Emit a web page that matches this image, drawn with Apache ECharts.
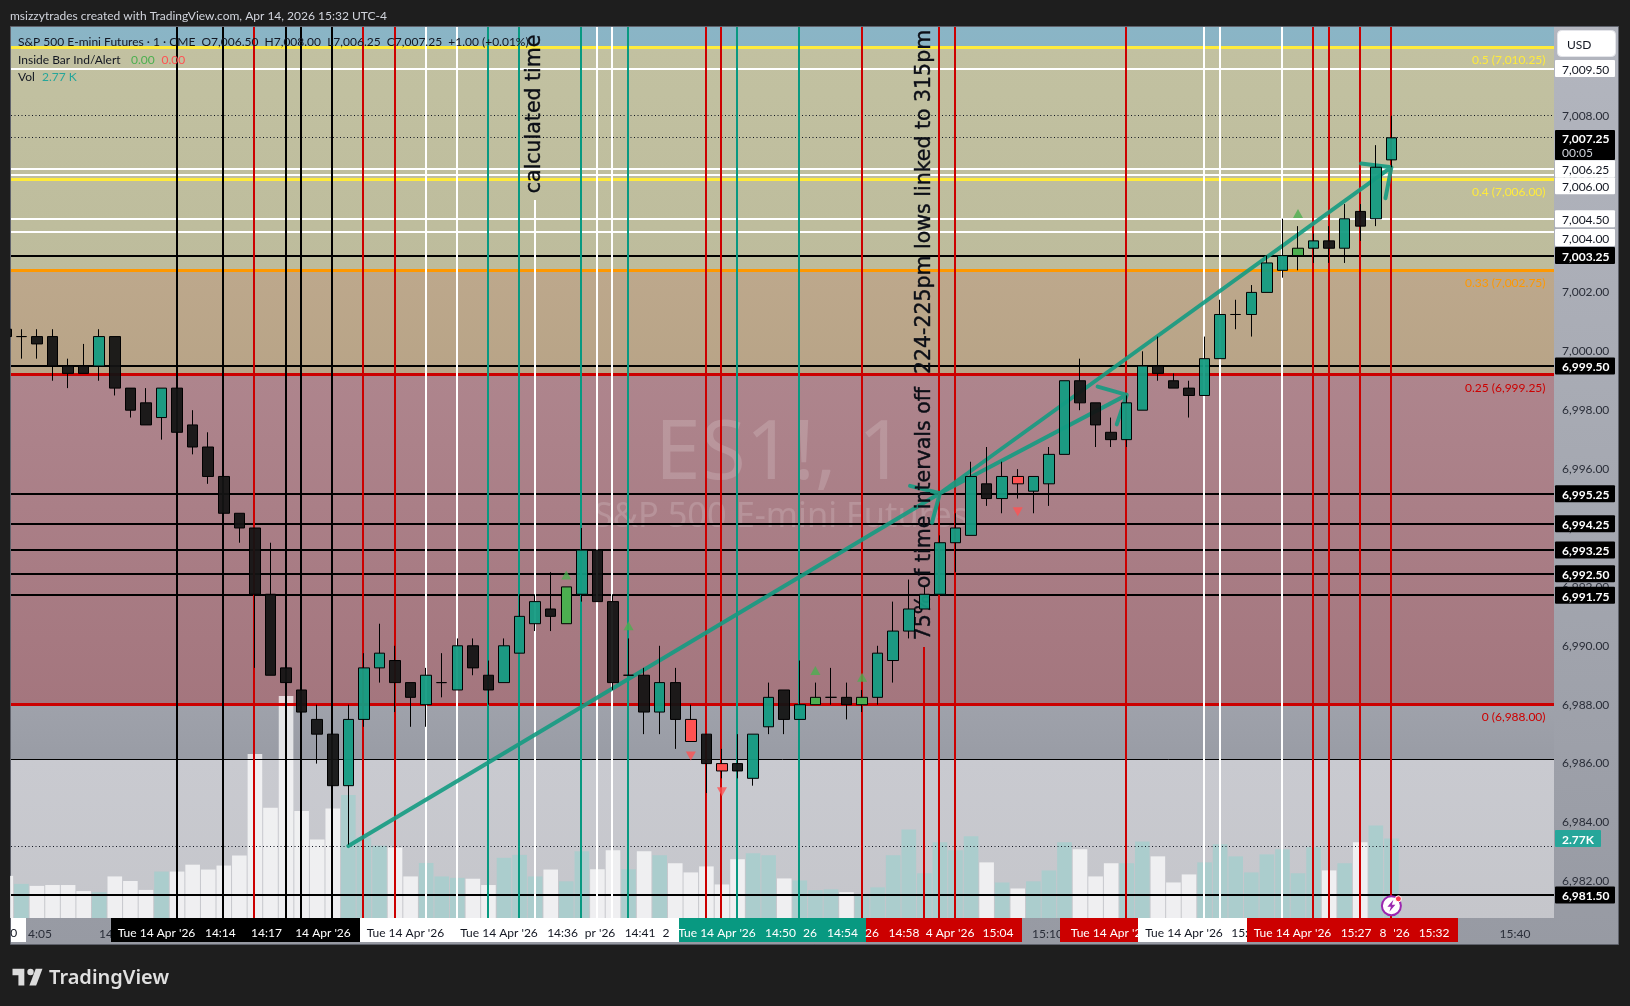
<!DOCTYPE html>
<html><head><meta charset="utf-8">
<style>html,body{margin:0;padding:0;background:#1e1e1e}#c{width:1630px;height:1006px}</style>
<script src="https://cdn.jsdelivr.net/npm/echarts@6/dist/echarts.min.js"></script>
</head><body><div id="c"></div>
<script>
// ---------- data ----------
const firstBar = -1;
const barOpen = [7000.75,7000.5,7000.5,7000.5,6999.5,6999.5,6999.5,7000.5,6998.75,6998.25,6997.75,6998.75,6997.5,6996.75,6995.75,6994.5,6994,6991.75,6989.25,6988.5,6987.5,6987,6985.25,6987.5,6989.25,6989.5,6988.75,6988,6988.75,6988.5,6990,6989,6988.75,6989.75,6990.75,6991.25,6990.75,6991.75,6993.25,6991.5,6989,6989,6987.75,6988.75,6987.5,6987,6986,6986,6985.5,6987.25,6988.5,6987.5,6988,6988.25,6988.25,6988,6988.25,6989.5,6990.5,6991.25,6991.75,6993.5,6993.75,6995.5,6995,6995.75,6995.25,6995.5,6996.5,6999,6998.25,6997.25,6997,6998,6999.5,6999,6998.75,6998.5,6999.75,7001.25,7001.25,7002,7002.75,7003.25,7003.5,7003.75,7003.5,7004.75,7004.5,7006.5];
const barClose = [7000.5,7000.5,7000.25,6999.5,6999.25,6999.25,7000.5,6998.75,6998,6997.5,6998.75,6997.25,6996.75,6995.75,6994.5,6994,6991.75,6989,6988.75,6987.75,6987,6985.25,6987.5,6989.25,6989.75,6988.75,6988.25,6989,6988.75,6990,6989.25,6988.5,6990,6991,6991.5,6991,6992,6993.25,6991.5,6988.75,6989,6987.75,6988.75,6987.5,6986.75,6986,6985.75,6985.75,6987,6988.25,6987.5,6988,6988.25,6988.25,6988,6988.25,6989.75,6990.5,6991.25,6991.75,6993.5,6994,6995.75,6995,6995.75,6995.5,6995.75,6996.5,6999,6998.25,6997.5,6997,6998.25,6999.5,6999.25,6998.75,6998.5,6999.75,7001.25,7001.25,7002,7003,7003.25,7003.5,7003.75,7003.5,7004.5,7004.25,7006.25,7007.25];
const barLow = [7000.5,6999.75,6999.75,6999,6998.75,6999.25,6999,6998.5,6997.75,6997.5,6997,6997.25,6996.5,6995.5,6994.5,6993.5,6989.25,6989,6988.75,6987.75,6986,6985.25,6983.25,6987.25,6988.75,6987.75,6987.25,6987.25,6988.25,6988.5,6989,6988,6988.75,6989.75,6990.5,6990.5,6990.75,6991.5,6991.5,6988.5,6989,6987,6987,6986.5,6986.75,6985,6985.5,6985.5,6985.25,6987,6987,6987.5,6988,6988,6987.5,6987.75,6988,6988.75,6990.25,6991.25,6991.75,6992.5,6993.75,6994.75,6994.5,6995,6994.5,6994.75,6996.5,6998,6996.75,6996.75,6996.75,6998,6999,6998.75,6997.75,6998.5,6999.75,7000.75,7000.5,7002,7002.5,7002.75,7003,7003,7003,7003.75,7004.25,7006.25];
const barHigh = [7000.75,7000.75,7000.75,7000.75,6999.75,7000.25,7000.75,7000.5,6998.75,6998.75,6998.75,6998.75,6998,6997.25,6995.75,6994.5,6994,6993.5,6989.25,6988.5,6988,6987,6988,6989.75,6990.75,6990,6988.75,6989.25,6989.75,6990.25,6990.25,6989.5,6990.25,6991.75,6991.75,6992.5,6992,6994,6993.25,6991.75,6990.25,6989.25,6990,6989.25,6988,6987,6986.5,6987,6987,6988.75,6988.5,6989.5,6988.75,6989.25,6988.75,6988.5,6990,6991.5,6992.25,6992,6993.75,6994.5,6996.25,6996.75,6996.25,6996,6995.75,6996.75,6999,6999.75,6998.25,6997.75,6998.5,7000,7000.5,6999.25,6999,7000.5,7001.75,7001.75,7002.25,7003.25,7004.5,7004.25,7004,7004.25,7005,7005,7007,7008];
const barVolumeK = [1.47,1.19,1.12,1.15,1.15,0.94,0.90,1.45,1.29,0.98,1.62,1.62,1.86,1.69,1.83,2.18,5.72,3.85,7.74,3.73,2.74,3.82,4.29,2.82,2.52,2.46,1.45,1.92,1.45,1.40,1.37,1.15,2.10,2.20,1.45,1.69,1.28,2.33,1.70,2.36,1.70,2.33,2.19,1.91,1.59,1.80,1.17,2.05,2.26,2.19,1.38,1.31,0.97,1.00,0.90,0.76,1.07,2.19,3.09,1.56,2.64,2.36,2.85,1.94,1.24,1.03,1.28,1.66,2.64,2.40,1.45,1.91,1.91,2.67,2.15,1.24,1.52,1.94,2.57,2.15,1.59,2.22,2.40,1.56,2.47,1.66,1.91,2.64,3.23,2.77];
const insideUpBars = [35,51,54,82];
const insideDownBars = [43,45,64];
const signalUpBars = [35,39,51,54,82];
const signalUpPrices = [6992.4,6990.68,6989.16,6988.93,7004.68];
const signalDownBars = [43,45,64];
const signalDownPrices = [6986.26,6985.04,6994.55];

const blackLevels = [7003.25,6999.5,6995.16,6994.14,6993.25,6992.45,6991.72,6981.54];
const whiteLevels = [7009.6,7006.2,7006.0,7004.5,7004.05];
const thinLevels = [6986.15];
const dottedLevels = [7008,7007.25,6983.2];
const fibLevels = [7010.32,7005.84,7002.75,6999.2,6988];
const fibLabels = ['0.5 (7,010.25)','0.4 (7,006.00)','0.33 (7,002.75)','0.25 (6,999.25)','0 (6,988.00)'];
const zoneEdges = [7011.02,7010.32,7002.75,6999.2,6988,6986.15,6980.75];

const blackVerticals = [10,13,17,18,20];
const redVerticals = [15,22,24,44,45,54,58,59,60,71,83,84,86,88];
const whiteVerticals = [26,28,33,37,38,76,77,81];
const tealVerticals = [30,32,36,39,46,50];
const partialVerticalBars = [33,58];
const partialVerticalTops = [7005.14,6989.96];

const priceTicks = [7008,7006,7004,7002,7000,6998,6996,6994,6992,6990,6988,6986,6984,6982];
const whiteTagTexts = ['7,009.50','7,006.25','7,006.00','7,004.50','7,004.00'];
const whiteTagPrices = [7009.6,7006.2,7005.62,7004.5,7003.86];
const blackTagTexts = ['7,003.25','6,999.50','6,995.25','6,994.25','6,993.25','6,992.50','6,991.75','6,981.50'];
const blackTagPrices = [7003.25,6999.5,6995.16,6994.14,6993.25,6992.45,6991.72,6981.54];

const arrowBars = [21,59,null,57.08,59,58.49,null,59,71,null,69.13,71,70.36,null,59,88,null,86.05,88,87.62];
const arrowPrices = [6983.2,6995.18,null,6995.43,6995.18,6994.18,null,6995.18,6998.52,null,6998.8,6998.52,6997.52,null,6995.18,7006.25,null,7006.38,7006.25,7005.2];

const noteTexts = ['calculated time','75% of time intervals off  224-225pm lows linked to 315pm'];
const noteBars = [33,58];
const notePrices = [7008.06,7000.55];

const bandStarts = [-0.67,5.78,21.75,42.22,54.23,66.71,71.71,78.73];
const bandEnds = [0.28,21.75,42.22,54.23,64.25,71.71,78.73,92.25];
const bandKinds = ['white','black','white','teal','red','red','white','red'];
const bandTexts = [['0'],["Tue 14 Apr '26",'14:14','14:17',"14 Apr '26"],["Tue 14 Apr '26","Tue 14 Apr '26",'14:36',"pr '26",'14:41','2'],["Tue 14 Apr '26",'14:50','26','14:54'],['26','14:58',"4 Apr '26",'15:04'],["Tue 14 Apr '26"],["Tue 14 Apr '26",'15:21'],["Tue 14 Apr '26",'15:27','8',"'26",'15:32']];
const bandTextBars = [[-0.5],[8.68,12.78,15.74,19.37],[24.67,30.68,34.76,37.17,39.74,41.4],[44.68,48.76,50.65,52.74],[54.64,56.69,59.65,62.73],[69.9],[74.68,78.7],[81.65,85.73,87.46,88.65,90.74]];
const plainTimeBars = [1.19,5.43,65.91,95.94];
const plainTimeTexts = ['4:05','14','15:10','15:40'];

// ---------- styles and layout ----------
const FONT = 'Lato, "Noto Sans", sans-serif';
const WATERMARK_FONT = '"Noto Sans", sans-serif';
const bandColors = {white:'#ffffff',black:'#000000',teal:'#089981',red:'#cc0000'};
const bandInk = {white:'#131722',black:'#ffffff',teal:'#ffffff',red:'#ffffff'};
const zoneColors = [['#8ab5c6','#8ab4c5'],['#c2c1a1','#bdbc9c'],['#bda88c','#b8a487'],['#ae858d','#a4767e'],['#9fa2ab','#999ca5'],['#c9cad0','#c5c6cb']];
const fibColors = ['#ffeb3b','#ffeb3b','#ff9800','#cc0000','#cc0000'];
const fibLabelColors = ['#ffeb3b','#ffeb3b','#ff9800','#cc0000','#cc0000'];
const fibLabelOffsets = [12.5,12.5,12.5,13.2,12.8];
const logoShapes = [[[14,22],[7,22],[7,11],[0,11],[0,4],[14,4]],[[28,22],[20,22],[27.5,4],[35.5,4]]];
const xMin = -0.668, xMax = 98.445;
const vgrad = (a,b)=>new echarts.graphic.LinearGradient(0,0,0,1,[{offset:0,color:a},{offset:1,color:b}]);
const crisp = (v,w)=> (Math.round(w)%2 ? Math.floor(v)+0.5 : Math.round(v));

function hLine(api,p,color,width,dash){
  const a=api.coord([xMin,p]), b=api.coord([xMax,p]); const y=crisp(a[1],width);
  return {type:'line',shape:{x1:a[0],y1:y,x2:b[0],y2:y},style:{stroke:color,lineWidth:width,lineDash:dash||null}};
}
function levelSeries(name,levels,color,width,z,dash){
  return {type:'custom',name,coordinateSystem:'cartesian2d',z,clip:true,silent:true,data:levels.map(v=>[xMin,v]),encode:{x:0,y:1},
    renderItem:(p,api)=>hLine(api,api.value(1),color,width,dash)};
}
function verticalSeries(name,bars,color,z){
  return {type:'custom',name,coordinateSystem:'cartesian2d',z,clip:true,silent:true,data:bars.map(b=>[b,6981]),encode:{x:0,y:1},
    renderItem:(p,api)=>{
      const b=api.value(0); const k=partialVerticalBars.indexOf(b);
      const top=k>=0?partialVerticalTops[k]:7011.02;
      const a=api.coord([b,top]), c=api.coord([b,6980.75]); const x=Math.floor(a[0]);
      return {type:'line',shape:{x1:x,y1:a[1],x2:x,y2:c[1]},style:{stroke:color,lineWidth:2}};
    }};
}
function tagSeries(name,texts,prices,bg,ink,weight){
  return {type:'custom',name,coordinateSystem:'cartesian2d',z:20,clip:false,silent:true,data:prices.map((v,i)=>[xMax,v,i]),encode:{x:0,y:1},
    renderItem:(p,api)=>{
      const c=api.coord([xMax,api.value(1)]); const i=api.value(2);
      return {type:'group',children:[
        {type:'rect',shape:{x:c[0]+1,y:c[1]-8.5,width:60,height:17,r:1},style:{fill:bg}},
        {type:'text',style:{x:c[0]+8,y:c[1]+1.5,text:texts[i],fill:ink,font:weight+' 12px '+FONT,verticalAlign:'middle',align:'left'}}]};
    }};
}

const candleData = barOpen.map((o,i)=>{
  const bar=i+firstBar;
  const fill=insideUpBars.includes(bar)?'#4caf50':insideDownBars.includes(bar)?'#ff5252':null;
  const item={value:[bar,o,barClose[i],barLow[i],barHigh[i]]};
  if(fill) item.itemStyle={color:fill,color0:fill};
  return item;
});
const volumeData = barVolumeK.map((v,i)=>({value:[i+firstBar,v],itemStyle:{color:barClose[i]>=barOpen[i]?'rgba(170,205,205,0.96)':'rgba(255,255,255,0.72)'}}));

const chart = echarts.init(document.getElementById('c'),null,{renderer:'canvas'});
const txt=(x,y,text,fill,extra)=>Object.assign({type:'text',z:30,silent:true,x,y:y+1.5,style:Object.assign({text,fill,font:'12px '+FONT,verticalAlign:'middle',align:'left'},extra||{})});
const logo=logoShapes.map(s=>({type:'polygon',z:30,silent:true,shape:{points:s.map(q=>[12.5+q[0]*0.845,965+q[1]*0.93])},style:{fill:'#dcdcdc'}}));

chart.setOption({
  animation:false,
  backgroundColor:'#1e1e1e',
  grid:{left:11,top:27,width:1543,height:891,containLabel:false},
  xAxis:{type:'value',min:xMin,max:xMax,splitLine:{show:false},axisLine:{show:false},axisTick:{show:false},
    axisLabel:{show:true,customValues:plainTimeBars,margin:10,color:'#2a2e39',fontFamily:'Lato',fontSize:12,hideOverlap:false,showMinLabel:true,showMaxLabel:true,
      formatter:v=>{const k=plainTimeBars.indexOf(v);return k>=0?plainTimeTexts[k]:'';}}},
  yAxis:[
    {type:'value',position:'right',min:6980.757,max:7011.012,scale:true,splitLine:{show:false},axisLine:{show:false},axisTick:{show:false},
      axisLabel:{customValues:priceTicks,margin:8,color:'#2a2e39',fontFamily:'Lato',fontSize:12,padding:[2,0,0,0],formatter:v=>v.toLocaleString('en-US',{minimumFractionDigits:2,maximumFractionDigits:2})}},
    {type:'value',min:0,max:31.08,show:false}
  ],
  graphic:[
    {type:'rect',z:-5,silent:true,shape:{x:10.5,y:26.5,width:1608,height:918},style:{fill:vgrad('#b3b6bf','#979aa3'),stroke:'#5f626b',lineWidth:1}},
    {type:'rect',z:12,silent:true,shape:{x:0,y:26,width:10,height:920},style:{fill:'#1e1e1e'}},
    {type:'text',z:2,silent:true,x:780,y:456,style:{text:'ES1!, 1',fill:'rgba(255,255,255,0.16)',font:'82px '+WATERMARK_FONT,align:'center',verticalAlign:'middle'}},
    {type:'text',z:2,silent:true,x:781,y:517,style:{text:'S&P 500 E-mini Futures',fill:'rgba(255,255,255,0.16)',font:'34.4px '+WATERMARK_FONT,align:'center',verticalAlign:'middle'}},
    txt(10,15,'msizzytrades created with TradingView.com, Apr 14, 2026 15:32 UTC-4','#d1d4dc'),
    txt(18,41,'S&P 500 E-mini Futures · 1 · CME  O7,006.50  H7,008.00  L7,006.25  C7,007.25  +1.00 (+0.01%)','#131722'),
    txt(18,59,'Inside Bar Ind/Alert','#131722'),
    txt(131,59,'0.00','#4caf50'),
    txt(161.5,59,'0.00','#ff5252'),
    txt(18,76,'Vol','#131722'),
    txt(42,76,'2.77 K','#26a69a'),
    {type:'rect',z:30,silent:true,shape:{x:1557.5,y:30.5,width:58,height:26,r:4},style:{fill:'#ffffff',stroke:'#e4e5ea',lineWidth:1}},
    txt(1567,44,'USD','#131722'),
    {type:'rect',z:30,silent:true,shape:{x:1555,y:130,width:60,height:30,r:1},style:{fill:'#000000'}},
    txt(1562,137.5,'7,007.25','#ffffff',{font:'bold 12px '+FONT}),
    txt(1562,152,'00:05','#d1d4dc'),
    {type:'rect',z:30,silent:true,shape:{x:1555,y:830,width:46,height:17,r:1},style:{fill:'#26a69a'}},
    txt(1562,838.5,'2.77K','#ffffff',{font:'bold 12px '+FONT}),
    ...logo,
    {type:'circle',z:30,silent:true,shape:{cx:30.5,cy:972,r:3.2},style:{fill:'#dcdcdc'}},
    {type:'text',z:30,silent:true,x:49,y:978,style:{text:'TradingView',fill:'#e0e0e0',font:'600 20px "Noto Sans", sans-serif',verticalAlign:'middle'}}
  ],
  series:[
    {type:'custom',name:'zones',coordinateSystem:'cartesian2d',z:1,silent:true,clip:true,data:zoneColors.map((_,i)=>[xMin,zoneEdges[i],i]),encode:{x:0,y:1},
      renderItem:(p,api)=>{
        const i=api.value(2); const a=api.coord([xMin,zoneEdges[i]]), b=api.coord([xMax,zoneEdges[i+1]]);
        return {type:'rect',shape:{x:a[0],y:a[1],width:b[0]-a[0],height:b[1]-a[1]},style:{fill:vgrad(zoneColors[i][0],zoneColors[i][1])}};
      }},
    {type:'bar',name:'Vol',xAxisIndex:0,yAxisIndex:1,barWidth:14.6,z:3,silent:true,data:volumeData},
    levelSeries('dotted',dottedLevels,'#131722',1,4,[1,2.5]),
    levelSeries('thin',thinLevels,'#000000',1,4),
    {type:'custom',name:'fib',coordinateSystem:'cartesian2d',z:4,clip:true,silent:true,data:fibLevels.map((v,i)=>[xMin,v,i]),encode:{x:0,y:1},
      renderItem:(p,api)=>hLine(api,api.value(1),fibColors[api.value(2)],3)},
    levelSeries('white levels',whiteLevels,'#ffffff',2,5),
    levelSeries('black levels',blackLevels,'#000000',2,5),
    verticalSeries('black verticals',blackVerticals,'#000000',6),
    verticalSeries('red verticals',redVerticals,'#cc0000',6),
    verticalSeries('white verticals',whiteVerticals,'#ffffff',6),
    verticalSeries('teal verticals',tealVerticals,'#089981',6),
    {type:'line',name:'arrows',z:7,silent:true,symbol:'none',connectNulls:false,clip:true,
      lineStyle:{color:'#149b82',width:4,opacity:0.9,cap:'round',join:'round'},
      data:arrowBars.map((b,i)=>b===null?['-','-']:[b,arrowPrices[i]])},
    {type:'custom',name:'notes',coordinateSystem:'cartesian2d',z:8,clip:false,silent:true,data:noteBars.map((b,i)=>[b,notePrices[i],i]),encode:{x:0,y:1},
      renderItem:(p,api)=>{
        const c=api.coord([api.value(0),api.value(1)]);
        return {type:'text',x:c[0],y:c[1],rotation:Math.PI/2,style:{x:0,y:0,text:noteTexts[api.value(2)],fill:'#0b0e16',stroke:'#0b0e16',lineWidth:0.4,font:'20.5px "DejaVu Sans", sans-serif',align:'center',verticalAlign:'middle'}};
      }},
    {type:'candlestick',name:'ES1!',z:9,silent:true,barWidth:11,encode:{x:0,y:[1,2,3,4]},
      itemStyle:{color:'rgba(20,155,130,0.95)',color0:'rgba(19,19,19,0.94)',borderColor:'#000000',borderColor0:'#000000',borderColorDoji:'#000000',borderWidth:1},
      data:candleData},
    {type:'scatter',name:'inside up',z:10,silent:true,symbol:'triangle',symbolSize:[10,9],itemStyle:{color:'#4caf50'},data:signalUpBars.map((b,i)=>[b,signalUpPrices[i]])},
    {type:'scatter',name:'inside down',z:10,silent:true,symbol:'triangle',symbolRotate:180,symbolSize:[10,9],itemStyle:{color:'#ff5252'},data:signalDownBars.map((b,i)=>[b,signalDownPrices[i]])},
    {type:'custom',name:'fib labels',coordinateSystem:'cartesian2d',z:11,clip:false,silent:true,data:fibLevels.map((v,i)=>[xMax,v,i]),encode:{x:0,y:1},
      renderItem:(p,api)=>{
        const i=api.value(2); const c=api.coord([xMax,api.value(1)]);
        return {type:'text',style:{x:c[0]-8.5,y:c[1]+fibLabelOffsets[i],text:fibLabels[i],fill:fibLabelColors[i],font:'12px '+FONT,align:'right',verticalAlign:'middle'}};
      }},
    tagSeries('white tags',whiteTagTexts,whiteTagPrices,'#ffffff','#131722','normal'),
    tagSeries('black tags',blackTagTexts,blackTagPrices,'#000000','#ffffff','bold'),
    {type:'custom',name:'time bands',coordinateSystem:'cartesian2d',z:20,clip:false,silent:true,data:bandStarts.map((b,i)=>[b,6980.757,i]),encode:{x:0,y:1},
      renderItem:(p,api)=>{
        const i=api.value(2); const a=api.coord([bandStarts[i],6980.757]), b=api.coord([bandEnds[i],6980.757]); const k=bandKinds[i];
        const kids=[{type:'rect',shape:{x:Math.round(a[0]),y:a[1],width:Math.round(b[0])-Math.round(a[0]),height:24},style:{fill:bandColors[k]}}];
        bandTexts[i].forEach((t,j)=>{kids.push({type:'text',style:{x:api.coord([bandTextBars[i][j],6980.757])[0],y:a[1]+15.5,text:t,fill:bandInk[k],font:'12px '+FONT,align:'center',verticalAlign:'middle'}});});
        return {type:'group',children:kids};
      }},
    {type:'custom',name:'alert',coordinateSystem:'cartesian2d',z:19,clip:false,silent:true,data:[[88,6981.17]],encode:{x:0,y:1},
      renderItem:(p,api)=>{
        const c=api.coord([api.value(0),api.value(1)]); const x=c[0],y=c[1];
        return {type:'group',children:[
          {type:'circle',shape:{cx:x,cy:y,r:9.5},style:{fill:'#ffffff',stroke:'#9c27b0',lineWidth:2}},
          {type:'polygon',shape:{points:[[x+2,y-6],[x-4,y+1],[x-0.5,y+1],[x-2,y+6],[x+4,y-1],[x+0.5,y-1]]},style:{fill:'#9c27b0'}},
          {type:'circle',shape:{cx:x+7,cy:y-7,r:3},style:{fill:'#ff3b4e',stroke:'#ffffff',lineWidth:1}}]};
      }}
  ]
});
</script></body></html>
